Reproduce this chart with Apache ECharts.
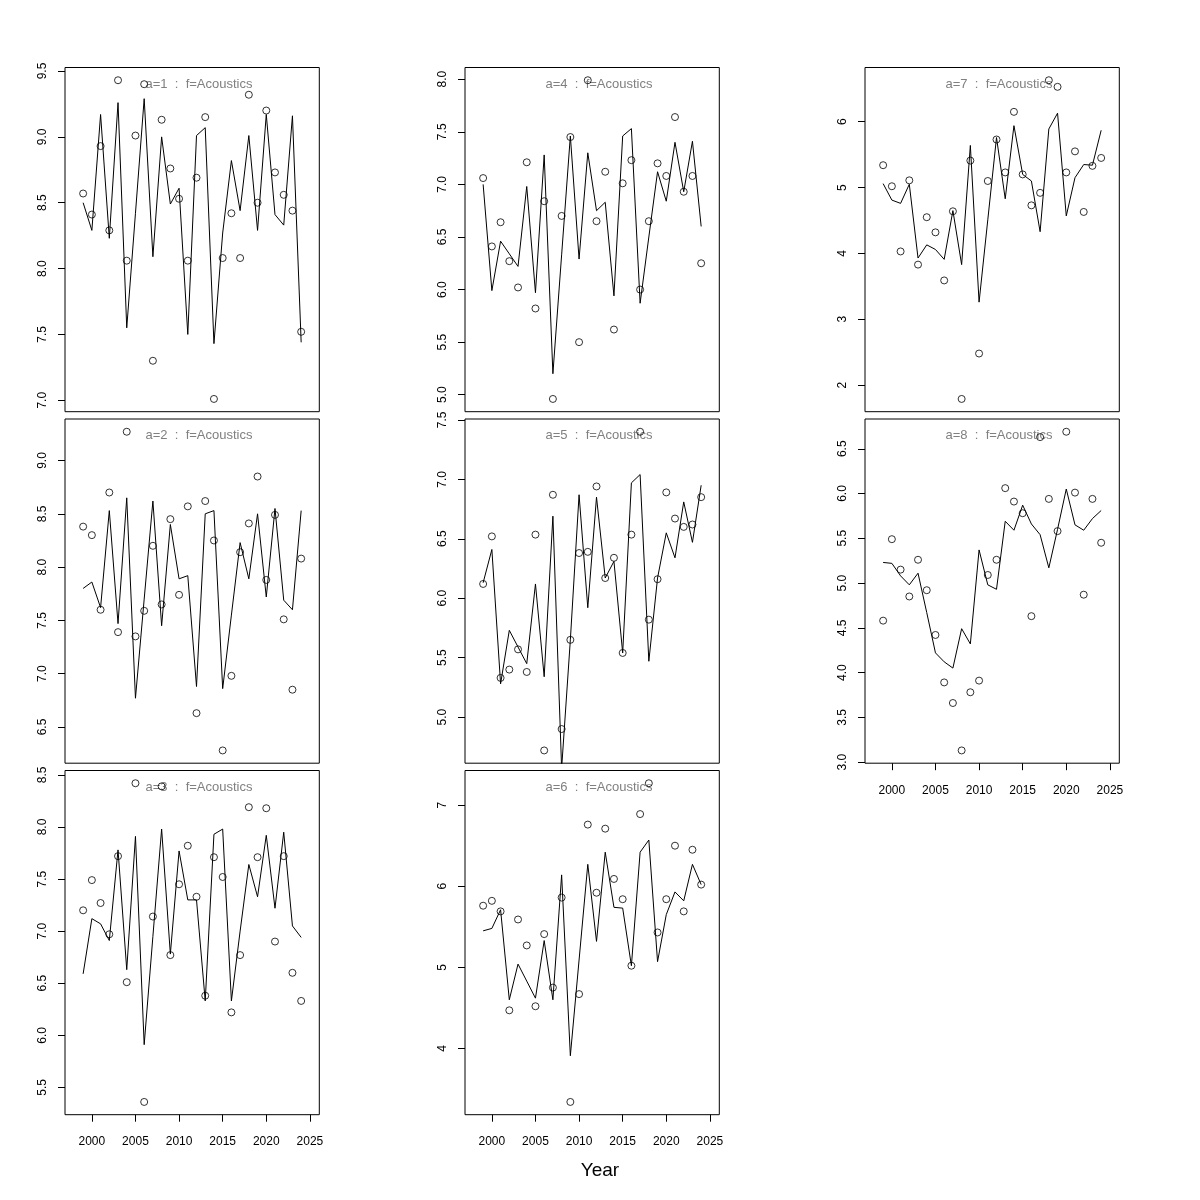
<!DOCTYPE html>
<html><head><meta charset="utf-8">
<script src="https://cdn.jsdelivr.net/npm/echarts@6/dist/echarts.min.js"></script>
<style>html,body{margin:0;padding:0;background:#fff}#c{width:1200px;height:1200px}</style>
</head><body><div id="c"></div>
<script>
const years = [1999,2000,2001,2002,2003,2004,2005,2006,2007,2008,2009,2010,2011,2012,2013,2014,2015,2016,2017,2018,2019,2020,2021,2022,2023,2024];

const obs1 = [8.57,8.41,8.93,8.29,9.43,8.06,9.01,9.40,7.30,9.13,8.76,8.53,8.06,8.69,9.15,7.01,8.08,8.42,8.08,9.32,8.50,9.20,8.73,8.56,8.44,7.52];
const fit1 = [8.50,8.29,9.17,8.23,9.26,7.55,8.42,9.29,8.09,9.00,8.49,8.61,7.50,9.01,9.07,7.43,8.27,8.82,8.44,9.01,8.29,9.17,8.41,8.33,9.16,7.44];

const obs2 = [8.38,8.30,7.60,8.70,7.39,9.27,7.35,7.59,8.20,7.65,8.45,7.74,8.57,6.63,8.62,8.25,6.28,6.98,8.14,8.41,8.85,7.88,8.49,7.51,6.85,8.08];
const fit2 = [7.80,7.86,7.62,8.53,7.47,8.65,6.77,7.70,8.62,7.45,8.40,7.89,7.92,6.88,8.50,8.53,6.86,7.55,8.23,7.89,8.50,7.72,8.55,7.69,7.60,8.53];

const obs3 = [7.20,7.49,7.27,6.97,7.72,6.51,8.42,5.36,7.14,8.39,6.77,7.45,7.82,7.33,6.38,7.71,7.52,6.22,6.77,8.19,7.71,8.18,6.90,7.72,6.60,6.33];
const fit3 = [6.59,7.12,7.07,6.91,7.78,6.63,7.91,5.91,6.95,7.98,6.78,7.77,7.30,7.30,6.33,7.93,7.98,6.33,7.00,7.64,7.33,7.92,7.22,7.95,7.05,6.94];

const obs4 = [7.06,6.41,6.64,6.27,6.02,7.21,5.82,6.84,4.96,6.70,7.45,5.50,7.99,6.65,7.12,5.62,7.01,7.23,6.00,6.65,7.20,7.08,7.64,6.93,7.08,6.25];
const fit4 = [7.00,5.99,6.46,6.34,6.22,6.98,5.97,7.28,5.20,6.33,7.46,6.29,7.30,6.75,6.83,5.94,7.46,7.53,5.87,6.50,7.12,6.84,7.40,6.93,7.41,6.60];

const obs5 = [6.12,6.52,5.33,5.40,5.57,5.38,6.535,4.72,6.87,4.90,5.65,6.38,6.39,6.94,6.17,6.34,5.54,6.535,7.40,5.82,6.16,6.89,6.67,6.60,6.62,6.85];
const fit5 = [6.13,6.41,5.28,5.73,5.59,5.45,6.12,5.34,6.69,4.57,5.65,6.87,5.92,6.85,6.17,6.31,5.54,6.97,7.04,5.47,6.17,6.55,6.34,6.81,6.47,6.95];

const obs6 = [5.76,5.82,5.69,4.47,5.59,5.27,4.52,5.41,4.75,5.86,3.34,4.67,6.76,5.92,6.71,6.09,5.84,5.02,6.89,7.27,5.43,5.84,6.50,5.69,6.45,6.02];
const fit6 = [5.45,5.48,5.71,4.60,5.04,4.83,4.62,5.33,4.60,6.14,3.91,5.09,6.27,5.32,6.42,5.74,5.73,5.02,6.42,6.57,5.07,5.65,5.93,5.82,6.27,6.02];

const obs7 = [5.34,5.02,4.03,5.11,3.83,4.55,4.32,3.59,4.64,1.79,5.41,2.48,5.10,5.73,5.23,6.15,5.20,4.73,4.92,6.63,6.53,5.23,5.55,4.63,5.33,5.45];
const fit7 = [5.06,4.81,4.76,5.05,3.93,4.13,4.06,3.91,4.65,3.83,5.64,3.26,4.51,5.76,4.83,5.94,5.20,5.10,4.33,5.89,6.13,4.57,5.15,5.35,5.34,5.87];

const obs8 = [4.58,5.49,5.15,4.85,5.26,4.92,4.42,3.89,3.66,3.13,3.78,3.91,5.09,5.26,6.06,5.91,5.78,4.63,6.63,5.94,5.58,6.69,6.01,4.87,5.94,5.45];
const fit8 = [5.23,5.22,5.08,4.98,5.11,4.67,4.22,4.12,4.05,4.49,4.32,5.37,4.98,4.93,5.69,5.59,5.87,5.66,5.54,5.17,5.60,6.05,5.65,5.59,5.72,5.81];

const yTicks1 = ["7.0","7.5","8.0","8.5","9.0","9.5"];
const yTicks2 = ["6.5","7.0","7.5","8.0","8.5","9.0"];
const yTicks3 = ["5.5","6.0","6.5","7.0","7.5","8.0","8.5"];
const yTicks4 = ["5.0","5.5","6.0","6.5","7.0","7.5","8.0"];
const yTicks5 = ["5.0","5.5","6.0","6.5","7.0","7.5"];
const yTicks6 = ["4","5","6","7"];
const yTicks7 = ["2","3","4","5","6"];
const yTicks8 = ["3.0","3.5","4.0","4.5","5.0","5.5","6.0","6.5"];

const xTickLabels = ["2000","2005","2010","2015","2020","2025"];
const panelTitles = ["a=1  :  f=Acoustics","a=2  :  f=Acoustics","a=3  :  f=Acoustics","a=4  :  f=Acoustics","a=5  :  f=Acoustics","a=6  :  f=Acoustics","a=7  :  f=Acoustics","a=8  :  f=Acoustics"];
const xLabelText = "Year";
const xLimits = [1998, 2025];

const panels = [
  {obs: obs1, fit: fit1, yt: yTicks1, col: 0, row: 0, xlab: false},
  {obs: obs2, fit: fit2, yt: yTicks2, col: 0, row: 1, xlab: false},
  {obs: obs3, fit: fit3, yt: yTicks3, col: 0, row: 2, xlab: true},
  {obs: obs4, fit: fit4, yt: yTicks4, col: 1, row: 0, xlab: false},
  {obs: obs5, fit: fit5, yt: yTicks5, col: 1, row: 1, xlab: false},
  {obs: obs6, fit: fit6, yt: yTicks6, col: 1, row: 2, xlab: true},
  {obs: obs7, fit: fit7, yt: yTicks7, col: 2, row: 0, xlab: false},
  {obs: obs8, fit: fit8, yt: yTicks8, col: 2, row: 1, xlab: true}
];

const colLeft = [65, 465, 865];
const rowTop = [67.5, 419, 770.5];
const boxW = 254.3, boxH = 344.2;
const FONT = '"Liberation Sans", Arial, Helvetica, sans-serif';

const xSpan = xLimits[1] - xLimits[0];
const xMin = xLimits[0] - 0.04 * xSpan, xMax = xLimits[1] + 0.04 * xSpan;
const xTickVals = xTickLabels.map(Number);

const grid = [], xAxis = [], yAxis = [], series = [], graphic = [];
panels.forEach((p, i) => {
  const lo = Math.min(...p.obs), hi = Math.max(...p.obs);
  const r = hi - lo;
  const yMin = lo - 0.04 * r, yMax = hi + 0.04 * r;
  const yVals = p.yt.map(Number);
  grid.push({left: colLeft[p.col], top: rowTop[p.row], width: boxW, height: boxH,
    show: true, borderColor: '#000', borderWidth: 1, backgroundColor: 'transparent', containLabel: false});
  xAxis.push({type: 'value', gridIndex: i, min: xMin, max: xMax,
    axisLine: {show: false}, splitLine: {show: false},
    axisTick: {show: p.xlab, length: 7, customValues: xTickVals, lineStyle: {color: '#000', width: 1}},
    axisLabel: {show: p.xlab, customValues: xTickVals, margin: 21, color: '#000', fontSize: 12, fontFamily: FONT,
      formatter: v => String(Math.round(v))}
  });
  yAxis.push({type: 'value', gridIndex: i, min: yMin, max: yMax,
    axisLine: {show: false}, splitLine: {show: false},
    axisTick: {show: true, length: 7, customValues: yVals, lineStyle: {color: '#000', width: 1}},
    axisLabel: {show: true, customValues: yVals, rotate: 90, margin: 16, color: '#000', fontSize: 12, fontFamily: FONT,
      formatter: v => { const k = yVals.findIndex(t => Math.abs(t - v) < 1e-6); return k >= 0 ? p.yt[k] : ''; }}
  });
  series.push({type: 'line', xAxisIndex: i, yAxisIndex: i, data: years.map((y, k) => [y, p.fit[k]]),
    showSymbol: false, symbol: 'none', lineStyle: {color: '#000', width: 1}, clip: true, silent: true});
  series.push({type: 'scatter', xAxisIndex: i, yAxisIndex: i, data: years.map((y, k) => [y, p.obs[k]]),
    symbol: 'circle', symbolSize: 7, itemStyle: {color: 'rgba(0,0,0,0)', borderColor: '#000', borderWidth: 1}, clip: true, silent: true});
  graphic.push({type: 'text', x: colLeft[p.col] + 134, y: rowTop[p.row] + 16.5,
    style: {text: panelTitles[i], fill: '#808080', font: '13px ' + FONT, align: 'center', verticalAlign: 'middle'}});
});
graphic.push({type: 'text', x: 600, y: 1171,
  style: {text: xLabelText, fill: '#000', font: '19px ' + FONT, align: 'center', verticalAlign: 'middle'}});

const chart = echarts.init(document.getElementById('c'), null, {renderer: 'canvas'});
chart.setOption({animation: false, backgroundColor: '#fff', grid, xAxis, yAxis, series, graphic});
</script></body></html>
